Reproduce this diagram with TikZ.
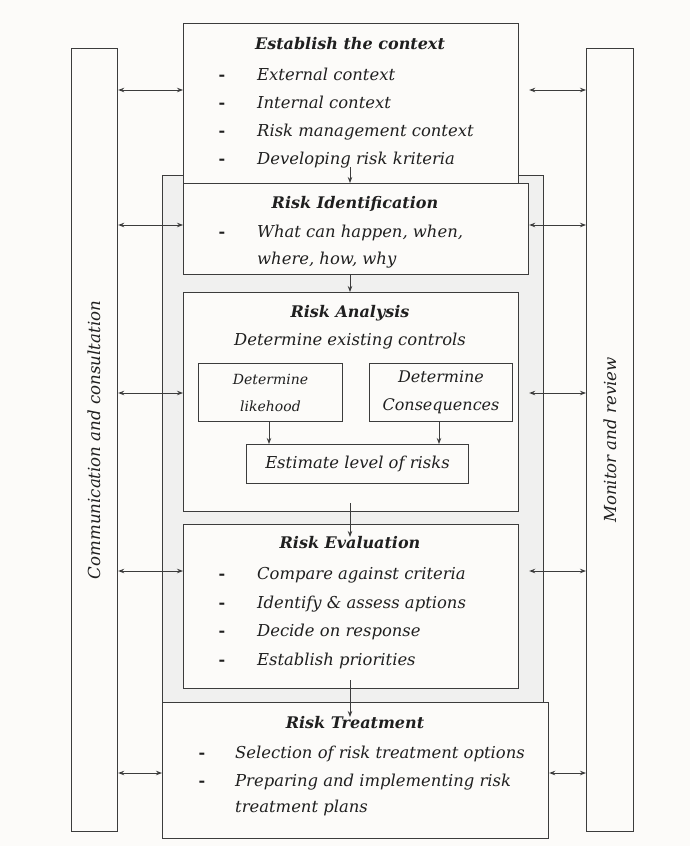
\documentclass[tikz,border=0pt]{standalone}
\usepackage{fontspec}
\setmainfont{DejaVu Serif}
\usetikzlibrary{arrows.meta}
\definecolor{paper}{HTML}{FCFBF9}
\definecolor{shade}{HTML}{F0F0EF}
\definecolor{ink}{HTML}{3C3C3C}
\begin{document}
\begin{tikzpicture}[x=1pt,y=-1pt,
  box/.style={draw=ink,line width=1.2pt,fill=paper,anchor=north west,inner sep=0pt},
  txt/.style={inner sep=0pt,anchor=base west,font=\fontsize{16.4}{18}\selectfont\itshape,text=black!88},
  ttl/.style={inner sep=0pt,anchor=base,font=\fontsize{16}{18}\selectfont\bfseries\itshape,text=black!88},
  ctr/.style={inner sep=0pt,anchor=base,font=\fontsize{16.4}{18}\selectfont\itshape,text=black!88},
  dsh/.style={inner sep=0pt,anchor=base,font=\fontsize{16}{18}\selectfont\bfseries,text=black!88},
  flow/.style={draw=ink,line width=0.9pt,-{Stealth[length=6pt,width=4.5pt]}},
  link/.style={draw=ink,line width=0.9pt,{Stealth[length=6pt,width=4.5pt]}-{Stealth[length=6pt,width=4.5pt]}}]
\fill[paper] (0,0) rectangle (690,846);
\useasboundingbox (0,0) rectangle (690,846);

% side bars
\node[box,minimum width=46pt,minimum height=783pt] (comm) at (71,48) {};
\node[box,minimum width=47pt,minimum height=783pt] (mon) at (586,48) {};
\node[rotate=90,font=\fontsize{16.6}{18}\selectfont\itshape,text=black!88] (commt) at (94,440) {Communication and consultation};
\node[rotate=90,font=\fontsize{16.6}{18}\selectfont\itshape,text=black!88] (mont) at (610,440) {Monitor and review};

% shaded process frame
\node[draw=ink,line width=1.2pt,fill=shade,anchor=north west,minimum width=381pt,minimum height=530pt] (frame) at (162,175) {};

% process steps
\node[box,minimum width=335pt,minimum height=160pt] (est) at (183,23) {};
\node[box,minimum width=345pt,minimum height=91pt] (ident) at (183,183) {};
\node[box,minimum width=335pt,minimum height=219pt] (anal) at (183,292) {};
\node[box,minimum width=335pt,minimum height=164pt] (eval) at (183,524) {};
\node[box,minimum width=386pt,minimum height=136pt] (treat) at (162,702) {};

% analysis sub-steps
\node[box,line width=1pt,minimum width=144pt,minimum height=58pt] (like) at (198,363) {};
\node[box,line width=1pt,minimum width=143pt,minimum height=58pt] (cons) at (369,363) {};
\node[box,line width=1pt,minimum width=222pt,minimum height=39pt] (estl) at (246,444) {};

% establish the context
\node[ttl] (estT) at (350,49) {Establish the context};
\node[dsh] (estd1) at (222,80) {-};
\node[dsh] (estd2) at (222,108) {-};
\node[dsh] (estd3) at (222,136) {-};
\node[dsh] (estd4) at (222,164) {-};
\node[txt] (est1) at (257,80) {External context};
\node[txt] (est2) at (257,108) {Internal context};
\node[txt] (est3) at (257,136) {Risk management context};
\node[txt] (est4) at (257,164) {Developing risk kriteria};

% risk identification
\node[ttl] (idT) at (355,208) {Risk Identification};
\node[dsh] (idd1) at (222,237) {-};
\node[txt] (id1) at (257,237) {What can happen, when,};
\node[txt] (id2) at (257,264) {where, how, why};

% risk analysis
\node[ttl] (anT) at (350,317) {Risk Analysis};
\node[ctr] (an1) at (350,345) {Determine existing controls};
\node[align=center,font=\fontsize{14}{27}\selectfont\itshape,text=black!88,inner sep=0pt] (likeT) at (like.center) {Determine\\likehood};
\node[align=center,font=\fontsize{16}{28}\selectfont\itshape,text=black!88,inner sep=0pt] (consT) at (cons.center) {Determine\\Consequences};
\node[font=\fontsize{16.4}{18}\selectfont\itshape,text=black!88,inner sep=0pt] (estlT) at (estl.center) {Estimate level of risks};

% risk evaluation
\node[ttl] (evT) at (350,548) {Risk Evaluation};
\node[dsh] (evd1) at (222,579) {-};
\node[dsh] (evd2) at (222,608) {-};
\node[dsh] (evd3) at (222,636) {-};
\node[dsh] (evd4) at (222,665) {-};
\node[txt] (ev1) at (257,579) {Compare against criteria};
\node[txt] (ev2) at (257,608) {Identify \& assess aptions};
\node[txt] (ev3) at (257,636) {Decide on response};
\node[txt] (ev4) at (257,665) {Establish priorities};

% risk treatment
\node[ttl] (trT) at (355,728) {Risk Treatment};
\node[dsh] (trd1) at (202,758) {-};
\node[dsh] (trd2) at (202,786) {-};
\node[txt] (tr1) at (235,758) {Selection of risk treatment options};
\node[txt] (tr2) at (235,786) {Preparing and implementing risk};
\node[txt] (tr3) at (235,812) {treatment plans};

% flow between steps
\coordinate (f1) at (350,167);
\coordinate (f3) at (350,503);
\coordinate (f3e) at (350,537);
\coordinate (f4) at (350,680);
\coordinate (f4e) at (350,717);
\draw[flow] (f1) -- (350,183);
\draw[flow] (350,274) -- (350,292);
\draw[flow] (f3) -- (f3e);
\draw[flow] (f4) -- (f4e);
\draw[flow] (like.south -| 269,0) -- (estl.north -| 269,0);
\draw[flow] (cons.south -| 439,0) -- (estl.north -| 439,0);

% communication links
\draw[link] (comm.east |- 0,90) -- (est.west |- 0,90);
\draw[link] (comm.east |- 0,225) -- (ident.west |- 0,225);
\draw[link] (comm.east |- 0,393) -- (anal.west |- 0,393);
\draw[link] (comm.east |- 0,571) -- (eval.west |- 0,571);
\draw[link] (comm.east |- 0,773) -- (treat.west |- 0,773);

% monitoring links
\draw[link] (ident.east |- 0,90) -- (mon.west |- 0,90);
\draw[link] (ident.east |- 0,225) -- (mon.west |- 0,225);
\draw[link] (ident.east |- 0,393) -- (mon.west |- 0,393);
\draw[link] (ident.east |- 0,571) -- (mon.west |- 0,571);
\draw[link] (treat.east |- 0,773) -- (mon.west |- 0,773);
\end{tikzpicture}
\end{document}
